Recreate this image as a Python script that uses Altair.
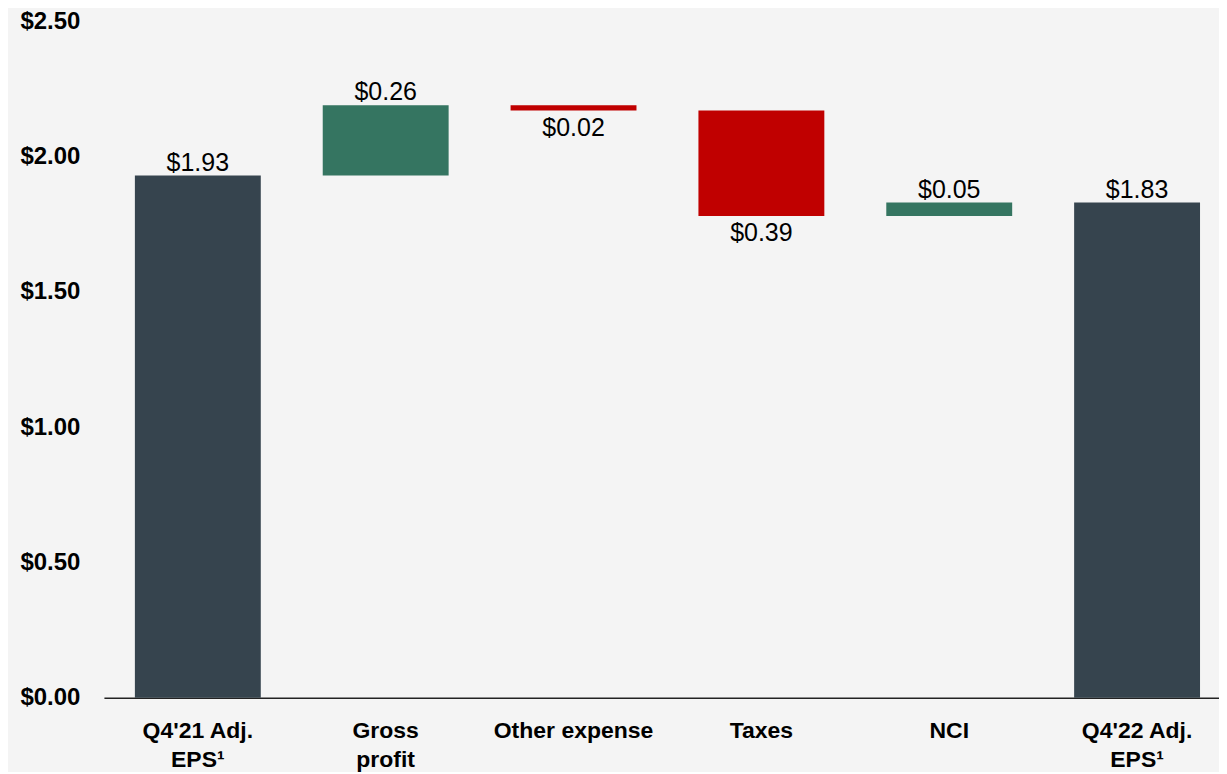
import altair as alt
import pandas as pd

categories = ["Q4'21 Adj.|EPS¹", "Gross|profit", "Other expense", "Taxes", "NCI", "Q4'22 Adj.|EPS¹"]
amounts = [1.93, 0.26, -0.02, -0.39, 0.05, 1.83]
kinds = ["total", "up", "down", "down", "up", "total"]
y_ticks = [0, 0.5, 1.0, 1.5, 2.0, 2.5]

starts, ends = [], []
running = 0.0
for amt, kind in zip(amounts, kinds):
    if kind == "total":
        starts.append(0.0)
        ends.append(amt)
        running = amt
    else:
        starts.append(running)
        running = running + amt
        ends.append(running)

df = pd.DataFrame({
    "cat": categories,
    "amount": amounts,
    "kind": kinds,
    "start": starts,
    "end": ends,
})
df["absval"] = df["amount"].abs()
df["top"] = df[["start", "end"]].max(axis=1)
df["bottom"] = df[["start", "end"]].min(axis=1)

FONT = "Liberation Sans"

x_enc = alt.X(
    "cat:N",
    sort=categories,
    scale=alt.Scale(paddingInner=0.33, paddingOuter=0.133, align=0.62),
    axis=alt.Axis(
        title=None,
        labelExpr="split(datum.value, '|')",
        labelAngle=0,
        labelFont=FONT,
        labelFontSize=23,
        labelFontWeight="bold",
        labelColor="#000000",
        labelPadding=22,
        labelLineHeight=29,
        ticks=False,
        domainColor="#222222",
        domainWidth=1.6,
    ),
)

bars = alt.Chart(df).mark_bar(size=126).encode(
    x=x_enc,
    y=alt.Y(
        "start:Q",
        scale=alt.Scale(domain=[0, 2.5], nice=False),
        axis=alt.Axis(
            title=None,
            values=y_ticks,
            format="$.2f",
            labelFont=FONT,
            labelFontSize=24,
            labelFontWeight="bold",
            labelColor="#000000",
            labelPadding=24,
            ticks=False,
            domain=False,
            grid=False,
        ),
    ),
    y2="end:Q",
    color=alt.Color(
        "kind:N",
        scale=alt.Scale(domain=["total", "up", "down"], range=["#36444e", "#357561", "#c00000"]),
        legend=None,
    ),
)

labels_up = alt.Chart(df).transform_filter("datum.kind != 'down'").mark_text(
    font=FONT, fontSize=25, color="#000000", baseline="alphabetic", dy=-5
).encode(
    x=alt.X("cat:N", sort=categories),
    y=alt.Y("top:Q"),
    text=alt.Text("absval:Q", format="$.2f"),
)

labels_down = alt.Chart(df).transform_filter("datum.kind == 'down'").mark_text(
    font=FONT, fontSize=25, color="#000000", baseline="top", dy=5
).encode(
    x=alt.X("cat:N", sort=categories),
    y=alt.Y("bottom:Q"),
    text=alt.Text("absval:Q", format="$.2f"),
)

chart = (
    alt.layer(bars, labels_up, labels_down)
    .properties(width=1116, height=677, background="#f4f4f4",
                padding={"left": 11, "top": 1, "right": 0, "bottom": 0})
    .configure_view(stroke=None)
)

chart.save("out.html", embed_options={"renderer": "svg", "actions": False})
